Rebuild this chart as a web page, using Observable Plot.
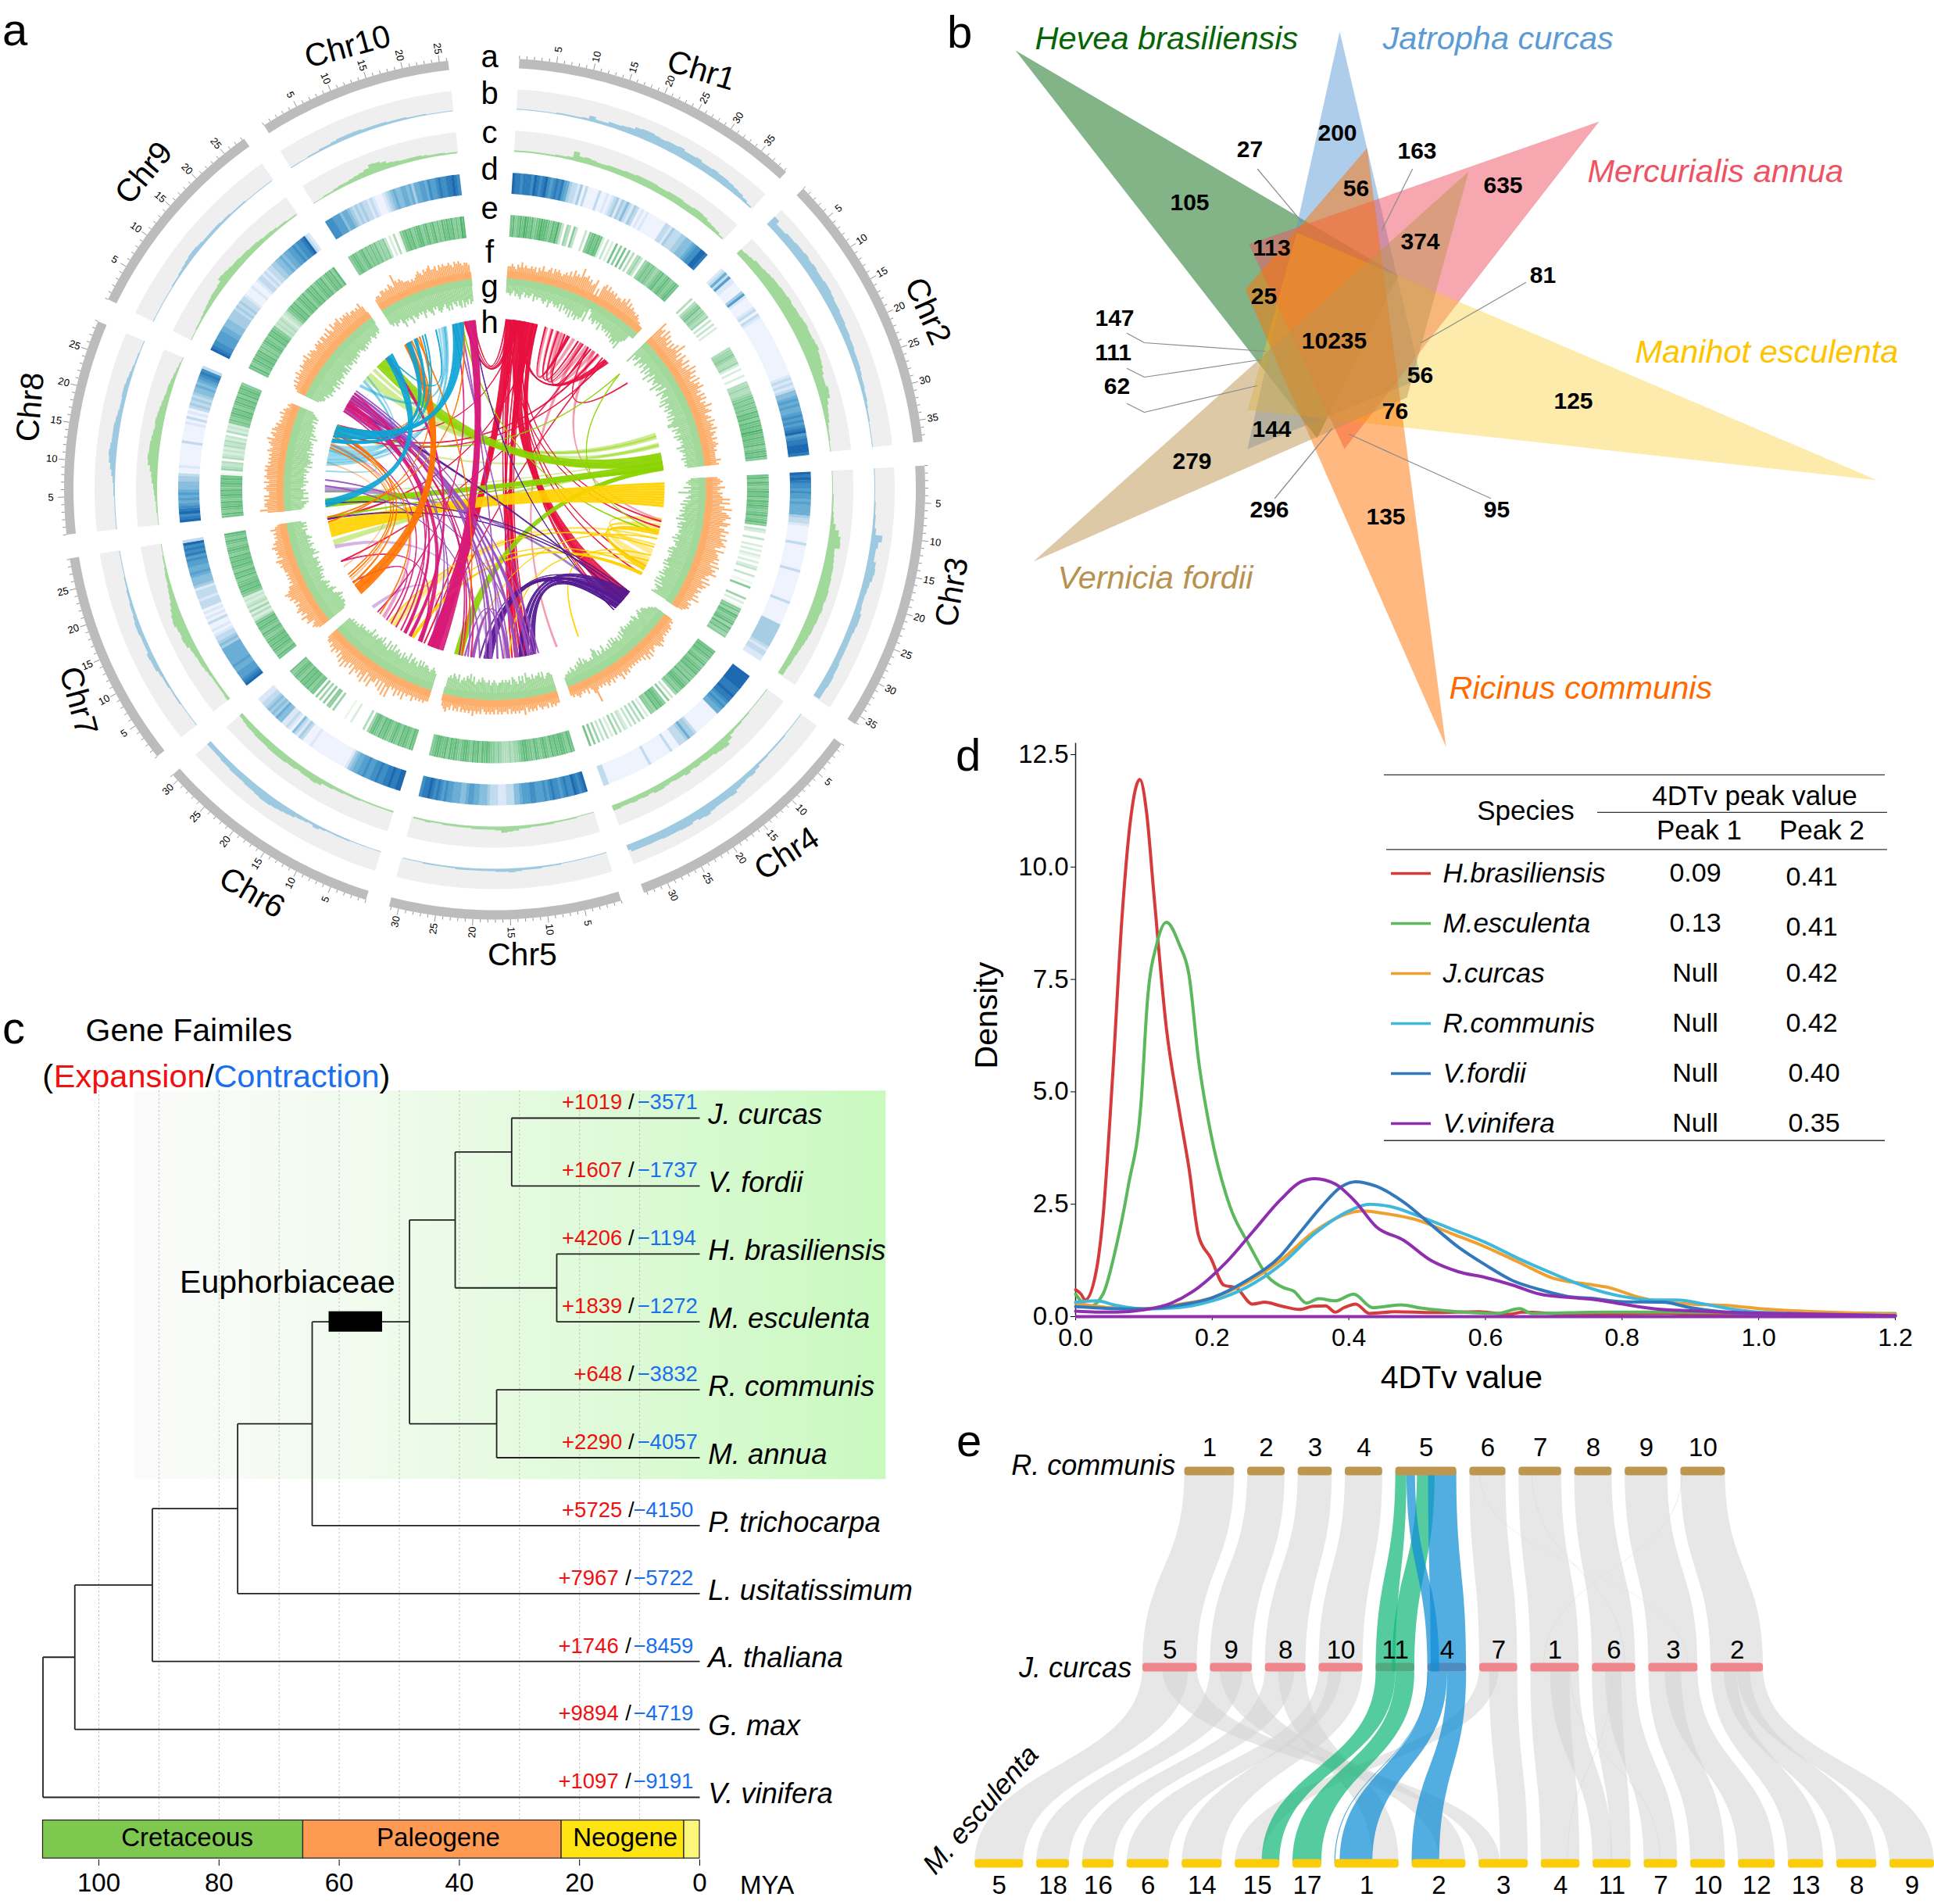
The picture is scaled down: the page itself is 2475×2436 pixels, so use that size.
<!DOCTYPE html>
<html><head><meta charset="utf-8">
<script src="https://cdn.jsdelivr.net/npm/d3@7"></script>
<script src="https://cdn.jsdelivr.net/npm/@observablehq/plot@0.6"></script>
<style>
html,body{margin:0;background:#fff}
#page{position:relative;width:2475px;height:2436px;overflow:hidden;font-family:"Liberation Sans",Arial,sans-serif}
.tag{position:absolute;font-size:58px;line-height:58px}
</style></head><body><div id="page"></div>
<script>
// ---------- Panel a data ----------
const chrNames=["Chr1","Chr2","Chr3","Chr4","Chr5","Chr6","Chr7","Chr8","Chr9","Chr10"];
const chrLen=[39.3,37.9,36.2,33.4,31.3,31,29.1,29,28.3,26.2];
const repeatDensity=[
[1,1,1,1,1,1,2,2,2,2,3,7,4,4,6,6,7,8,11,12,12,11,10,11,11,12,10,10,11,9,9,10,9,9,8,7,6,4,2],
[14,9,9,11,11,12,12,13,12,13,12,12,13,13,12,11,11,10,10,9,9,8,8,7,7,7,6,5,5,4,4,3,2,2,1,1,1,1],
[1,1,1,1,1,2,2,3,3,5,14,10,8,8,11,12,11,9,8,7,7,8,10,10,9,8,8,8,8,8,9,9,10,10,9,9],
[1,1,1,1,2,2,2,2,3,3,5,7,6,7,8,11,10,10,10,11,13,12,10,12,12,11,11,11,10,10,10,10,10,7],
[1,1,1,1,1,1,1,2,2,2,3,3,3,4,5,4,4,3,3,3,3,3,3,2,2,2,2,2,1,1,1],
[1,1,1,1,1,2,2,2,2,3,5,3,4,5,7,8,9,10,11,11,10,9,9,8,8,8,7,7,6,6,6],
[1,1,1,1,2,2,2,3,3,4,6,6,7,5,5,5,6,6,5,4,4,3,3,2,2,1,1,1,1],
[1,1,1,1,1,2,2,3,5,7,9,10,9,8,8,8,7,6,5,5,6,6,5,4,3,2,2,1,1],
[1,1,1,1,1,1,2,2,3,4,5,6,6,5,4,4,4,4,3,3,2,2,2,1,1,1,1,1],
[1,1,1,2,2,3,3,4,5,5,5,5,4,4,4,4,3,3,3,2,2,2,1,1,1,1]];
const gypsyDensity=[
[2,2,2,2,2,2,2,3,3,4,12,7,8,7,6,6,7,7,7,8,8,9,9,9,9,8,8,9,9,9,8,8,9,9,8,6,5,4,2],
[8,9,10,12,12,13,14,15,15,16,16,17,16,17,17,18,19,18,18,19,20,18,17,16,14,12,12,14,13,9,7,6,5,3,2,2,1,1],
[1,1,1,1,2,2,2,3,4,7,12,15,16,10,11,12,13,13,14,14,15,15,14,15,14,14,13,13,12,11,10,9,8,8,7,7],
[1,1,1,1,1,2,2,3,3,4,8,12,11,10,8,8,7,8,7,9,7,7,6,7,8,8,6,7,6,7,6,6,7,7],
[1,1,1,2,2,2,2,3,3,3,3,4,4,6,7,8,5,4,4,4,4,3,3,3,3,3,2,2,3,2,2],
[2,2,2,2,2,2,3,3,3,4,4,5,5,8,9,8,8,7,8,8,9,9,9,9,8,8,8,7,7,6,5],
[4,3,3,3,3,4,5,6,6,7,8,11,12,11,12,14,13,11,9,7,6,5,4,4,3,2,2,1,1],
[1,1,2,2,3,4,5,7,8,10,13,14,13,13,12,11,10,11,10,9,8,7,6,6,5,4,3,2,1],
[1,1,2,2,3,4,5,6,7,7,8,12,11,10,9,9,8,8,7,7,6,5,5,4,3,3,2,2],
[1,1,2,2,3,4,4,5,6,7,9,13,12,10,7,6,5,5,5,5,4,3,3,3,2,2]];
const geneHeat=[
"98878887987897678786"+"53221302"+"000020"+"0101"+"23132421320101"+"000000"+"02213222"+"334445"+"677998",
"12526110"+"00036100"+"00120210"+"0000000000000000000000"+"121212"+"445656556767"+"678967889998",
"98987767665655"+"553221"+"000000"+"20"+"00000000"+"20"+"0000000000"+"20"+"0000000"+"333333333"+"212211",
"9999998889"+"88767655"+"0000000000"+"23353222"+"000"+"20"+"0000000"+"20"+"000000000000000"+"222",
"9878977876"+"7787676667"+"7666544222"+"1112223444"+"5566544555"+"6676787898"+"87",
"9988988778"+"77667665"+"5431"+"000000000000001000"+"2312401211"+"44534343"+"2211",
"987666"+"5565555555"+"343221"+"0100201010"+"22212221"+"34445655"+"667687"+"8792",
"987987"+"656565444332"+"00100000"+"00020000"+"00102010"+"232323"+"445456"+"7872",
"987766"+"6655444333"+"32323221"+"000100"+"12212122"+"33445455"+"667677"+"8921",
"777666"+"455432"+"32322121"+"0001"+"234544554535"+"5665766787"+"788987"];
const geneBars=[
"7867879878678988768796"+"305406"+"300"+"030"+"678787"+"203020"+"70607060"+"404530"+"56767656"+"7867876787",
"404567"+"565450"+"303020"+"00000000"+"45565445"+"2020"+"0200"+"445445"+"6767676878687879878778678786",
"7868767878687876786786"+"03200300"+"2020210202"+"300300"+"106000"+"050201"+"67587678586756",
"787876786787867686788767"+"503060"+"6787856"+"6020504040302"+"304050204030506070",
"7867887878678767867"+"7887655454445656"+"6787868786788767878687"+"78876",
"78678786787678786787"+"5040"+"0000200100"+"000506"+"60605060"+"77687878678767",
"7867878787678678786"+"32425243232"+"6787877687867878786787678678",
"786787867878678787"+"10"+"543404"+"32324342304232"+"676787867878687876",
"786787878676787687876"+"34343234"+"678786787867878678786787868",
"6787678676"+"7675656"+"3020401"+"6787867886786786768787867698"];
const snpOut=[
"3343243534"+"3343424353"+"3453545434"+"5464756596"+"6756457141"+"6757565645"+"5465746454"+"43432211",
"9674857463"+"6475946375"+"4736485746"+"3746574536"+"4635474563"+"4536454635"+"4353454343"+"333534",
"3454364354"+"5858469578"+"9769857968"+"6978975967"+"7868596879"+"6574857646"+"546474354543",
"2323434343"+"4546543453"+"6463534343"+"4343545364"+"3435345343"+"4349532423"+"23432321",
"3343424334"+"3243434253"+"3434342433"+"4342434343"+"2434353434"+"3424342435"+"43",
"3343434353"+"3436353634"+"3848373635"+"5847385746"+"5846475857"+"4635464534"+"43",
"3454365574"+"6576564657"+"6786553434"+"3434445456"+"3545456454"+"34343532",
"5856656464"+"4565464565"+"5656454545"+"4654565745"+"6465453434"+"35343232",
"2343535464"+"5465565746"+"5654565646"+"6464754756"+"6746565645"+"545464",
"3443554546"+"5496565444"+"3434565465"+"6755646565"+"5654656545"+"54"];
const snpIn=[
"4454354564"+"3545436454"+"4565475456"+"5647465758"+"5768676371"+"2545645474"+"5656575768"+"78695411",
"9576486574"+"6847596485"+"6759476385"+"6748695768"+"5768586799"+"7586758675"+"6568576565"+"756565",
"4565474594"+"5647586768"+"6786957868"+"6776879687"+"7689797878"+"8979687879"+"687969587678",
"3455677687"+"6578677676"+"7687574646"+"5757464547"+"5464786454"+"4564756453"+"45343323",
"5665475766"+"5756684757"+"4567465656"+"5545654655"+"6756547586"+"7565475675"+"65",
"5676567768"+"6857687596"+"7685768769"+"6859676978"+"7687697676"+"6767565656"+"55",
"6778878798"+"7668756576"+"5465657675"+"6766755867"+"6567565765"+"55646564",
"5667858668"+"6756768676"+"7687697898"+"7879687878"+"7696876767"+"65757654",
"4566576877"+"8769786977"+"8768785867"+"7686767565"+"6767565654"+"565454",
"5657665796"+"7679678767"+"6976789676"+"8987689796"+"7868969786"+"87"];
const linkFamilyColors=["#e8103f","#8bd400","#ffd200","#531b93","#9b4fc0","#d81b7a","#ff7300","#0ea5d6"];
// chrA, Mb from, Mb to, chrB, Mb from, Mb to, family, strong(1)/faint(0)
const links=[
[1,14,15,1,24,25,0,0],[1,16,17,1,27,28,0,0],[1,18,19,1,29,30,0,0],[1,20,21,1,32,33,0,0],[1,19,20,1,34,35,0,0],[1,27,28,4,32,32.5,0,0],[3,13.5,14,1,32,33,0,0],
[2,25,26.5,9,14,16,1,0],[2,28.5,29.5,8,26,26.5,1,0],[2,29,30,9,18,19,1,0],[2,36,37,7,19,21,1,0],[2,26,27,9,16,17,1,0],[2,33,33.3,8,5,5.3,1,0],
[3,13,14.5,3,24,26,2,0],[3,15,17,3,27,30,2,0],[3,20,20.5,6,19,21,2,0],[3,22,22.5,6,18,19.5,2,0],[3,29,29.5,5,14,14.5,2,0],
[4,6,7,8,5,7,3,0],[7,18,19,5,18,19,4,0],[6,28,29,6,4,5,4,0],[9,7,8.5,5,13,14,4,0],[6,23,24,8,21,21.5,5,0],
[8,21,22,7,6,6.5,6,0],[7,11,11.3,8,15,15.3,6,0],
[8,16,18,10,15,16,7,0],[8,18,20,9,13,14,7,0],[10,14,15.5,9,11,12,7,0],[8,20,21,10,19,19.5,7,0],[8,14,15,10,13,13.5,7,0],[8,15,16,9,15,15.5,7,0],[8,12,12.3,8,19,19.4,7,0],
[1,0.5,4,6,2,6,0,1],[1,4,7,4,1,5,0,1],[1,7,8,5,5,7,0,1],[1,3,3.5,5,8,8.5,0,1],[1,8,9,5,6,7.5,0,1],[1,9,10,5,9,10,0,1],[1,10,11.5,4,5,6,0,1],[1,37,39,1,4,6,0,1],[10,22,23,1,3,5,0,1],
[1,1,1.2,5,9.5,9.7,0,1],[1,2,2.3,5,7,7.3,0,1],[1,4,4.3,5,10,10.3,0,1],[1,6,6.3,5,11,11.3,0,1],[1,9.5,9.8,5,4,4.3,0,1],[1,10,10.3,4,8,8.3,0,1],[1,11,11.2,4,9,9.2,0,1],[1,8,8.3,4,6,6.3,0,1],[1,7,7.3,3,30,30.3,0,1],[1,6.5,6.8,3,33,33.3,0,1],[1,0.5,0.8,10,24,24.3,0,1],[1,1.5,1.8,10,25,25.3,0,1],[1,5,5.3,8,28,28.3,0,1],[1,37.5,37.8,8,25.5,25.8,0,1],[1,36,36.3,6,4,4.3,0,1],[1,3.5,3.8,6,7,7.3,0,1],[1,4.5,4.8,6,9,9.3,0,1],
[1,14,14.3,1,22,23,0,1],[1,16.5,16.8,1,26,26.4,0,1],[1,18.5,18.8,1,28,28.3,0,1],[1,21,21.3,1,31,31.4,0,1],[2,5.5,5.8,1,30,30.3,0,1],[1,34,34.5,8,27,27.5,0,1],[1,30,30.3,7,13,13.3,0,1],[1,11,11.3,7,28,28.5,0,1],[1,2,2.3,3,16,16.3,0,1],[1,5,5.3,3,14,14.3,0,1],
[2,32,36,9,20,25,1,1],[2,35,38,8,0,3,1,1],[2,36.5,38,5,28,31,1,1],[2,37,37.5,7,28.5,29,1,1],[2,1.5,1.7,3,18,18.2,1,1],[2,1.5,1.7,8,28,28.2,1,1],[10,21,21.3,3,18,18.3,1,1],
[3,1,9.5,7,22,27.5,2,1],[3,17,19,3,30,32,2,1],[3,32.5,33.5,6,11,12,2,1],[3,28,28.3,5,12,12.3,2,1],[3,26,26.3,4,24,24.3,2,1],[3,23,23.3,6,21,21.3,2,1],[3,20,20.2,5,25,25.2,2,1],[3,31,31.2,6,15,15.2,2,1],
[4,1,3,5,7.5,9,3,1],[4,3.5,5.5,5,5.5,7,3,1],[4,6,8.5,5,3,5,3,1],[4,5,6,5,18,21,3,1],[4,2,2.3,7,28,28.3,3,1],[4,9,9.2,10,25,25.2,3,1],[4,4,4.4,9,3,4,3,1],[4,3,3.3,5,20,20.3,3,1],[4,7,7.3,5,19,19.3,3,1],[4,8,8.3,5,22,22.3,3,1],[4,1,1.2,8,1,1.2,3,1],
[5,5,6,9,5,6,4,1],[5,9,10,9,6,7,4,1],[5,20,20.3,9,7,7.3,4,1],[5,18,19,9,8,8.5,4,1],[5,24,25,5,12,13,4,1],[10,20.5,20.8,5,16,16.3,4,1],[5,2,2.3,9,9,9.3,4,1],[5,4,4.4,9,2,2.4,4,1],[5,3,3.3,10,19,19.3,4,1],[5,14,14.4,5,27,27.4,4,1],[5,12,12.3,9,4,4.3,4,1],[5,16,16.3,9,3,3.3,4,1],[5,7,7.3,8,9,9.3,4,1],[5,22,22.3,8,7,7.3,4,1],[5,26,26.3,9,1,1.3,4,1],[6,2,2.3,9,1.5,1.8,4,1],[6,5,5.3,9,6,6.3,4,1],
[10,23,26,6,0.3,6,5,1],[9,2,4,6,8,9.5,5,1],[9,24,25,6,12,13,5,1],[9,4,5,6,14,15,5,1],[6,26,26.3,10,18,18.3,5,1],[7,13,13.3,6,8,8.3,5,1],[9,1,1.3,6,16,16.3,5,1],[9,5,5.3,5,25,25.3,5,1],[9,6,6.3,5,28,28.3,5,1],[9,7,7.3,5,29,29.3,5,1],[6,18,18.3,9,8,8.3,5,1],[6,20,20.3,8,25,25.3,5,1],[6,22,22.3,7,5,5.3,5,1],
[7,0.2,4.2,10,0.3,2.5,6,1],[8,25.5,26.5,7,4.5,5,6,1],[7,28.5,28.8,10,21.5,21.8,6,1],[10,6,6.3,7,27,27.3,6,1],[8,24,24.3,7,7,7.3,6,1],[8,20,20.3,7,8,8.3,6,1],[10,3,3.3,7,2,2.3,6,1],[10,1.5,1.8,8,27,27.3,6,1],[6,25,25.3,8,24,24.3,6,1],[5,28,28.2,10,5,5.3,6,1],
[8,26,28,10,18,22,7,1],[9,24,27,8,0,2.5,7,1],[10,1,3,8,24,26,7,1],[10,4,5,8,22,23,7,1],[9,25,25.3,10,12,12.3,7,1],[8,24,24.3,10,7,7.3,7,1],[8,23,23.3,10,8,8.3,7,1]];
const trackLetters=["a","b","c","d","e","f","g","h"];

// ---------- Panel b data ----------
const vennNames=["Hevea brasiliensis","Jatropha curcas","Mercurialis annua","Manihot esculenta","Ricinus communis","Vernicia fordii"];
const vennTriangles=[
[[1299,64],[1789,352],[1685,560]],
[[1714,40],[1596,574],[1818,484]],
[[2046,155],[1598,312],[1720,574]],
[[2402,614],[1659,297],[1596,524]],
[[1850,955],[1749,189],[1593,370]],
[[1322,718],[1879,219],[1800,508]]];
const vennColors=["#056a12","#5b9bd5","#ef5060","#fbcd2e","#ff7200","#bd9350"];
const vennOpacity=[.5,.5,.5,.4,.5,.5];
const vennLabelColors=["#056405","#5b9bd5","#ef5262","#ffc400","#ff6a00","#b8914f"];
const vennLabelAnchors=[[1324,49],[1769,49],[2031,219],[2092,450],[1854,880],[1353,739]];
const vennCounts=[["27",1599,191],["200",1711,170],["163",1813,193],["56",1735,241],["635",1923,237],["105",1522,259],["113",1627,317],["374",1817,309],["25",1617,379],["81",1974,352],["10235",1707,436],["147",1426,407],["111",1424,451],["62",1429,494],["56",1817,480],["76",1785,526],["125",2013,513],["144",1627,549],["279",1525,590],["296",1624,652],["95",1915,652],["135",1773,661]];
const vennLeaders=[
[[1609,216],[1665,283]],[[1807,216],[1768,294]],[[1952,361],[1818,438]],
[[1442,426],[1464,438],[1619,449]],[[1442,471],[1464,482],[1611,460]],[[1442,516],[1464,527],[1608,493]],
[[1631,637],[1704,548]],[[1907,637],[1726,555]]];

// ---------- Panel c data ----------
const taxa=["J. curcas","V. fordii","H. brasiliensis","M. esculenta","R. communis","M. annua","P. trichocarpa","L. usitatissimum","A. thaliana","G. max","V. vinifera"];
const expansions=[1019,1607,4206,1839,648,2290,5725,7967,1746,9894,1097];
const contractions=[3571,1737,1194,1272,3832,4057,4150,5722,8459,4719,9191];
const speciesTree={age:109.3,kids:[{age:104,kids:[{age:91.1,kids:[{age:76.9,kids:[{age:64.5,kids:[{age:48.3,kids:[{age:40.7,kids:[{age:31.3,kids:[0,1]},{age:23.8,kids:[2,3]}]},{age:33.8,kids:[4,5]}]},6]},7]},8]},9]},10]};
const eras=[["Cretaceous",109.3,66,"#7ec850",85.3],["Paleogene",66,23,"#ff9a52",43.5],["Neogene",23,2.6,"#ffe414",12.4],["",2.6,0,"#fbf77a",1.3]];
const timeTicks=[100,80,60,40,20,0];
const gridAges=[100,90,80,70,60,50,40,30,20,10];

// ---------- Panel d data ----------
const dSpecies=["H.brasiliensis","M.esculenta","J.curcas","R.communis","V.fordii","V.vinifera"];
const dColors=["#d63b3b","#5cb85c","#f0a030","#3fb8dc","#3278bd","#8e2fb0"];
const peak1=["0.09","0.13","Null","Null","Null","Null"];
const peak2=["0.41","0.41","0.42","0.42","0.40","0.35"];
const densityCurves=[
[[0,.6],[.008,.5],[.014,.37],[.03,1.0],[.04,2.2],[.054,5.3],[.068,8.9],[.08,11],[.094,11.95],[.104,11.2],[.114,9.5],[.133,6.4],[.152,4.55],[.166,3.3],[.18,1.8],[.198,1.3],[.217,.7],[.235,.64],[.259,.28],[.277,.32],[.3,.24],[.328,.16],[.347,.23],[.366,.24],[.38,.1],[.393,.2],[.41,.28],[.43,.07],[.468,.11],[.524,.09],[.59,.11],[.635,.05],[.654,.1],[.728,.05],[.868,.07],[.914,.04],[1.2,.02]],
[[0,.5],[.02,.22],[.04,.5],[.06,1.6],[.077,2.9],[.096,4.8],[.105,7],[.119,8.3],[.133,8.77],[.152,8.27],[.166,7.6],[.18,5.7],[.198,4.07],[.226,2.45],[.254,1.6],[.282,.88],[.305,.64],[.319,.57],[.338,.3],[.356,.4],[.38,.35],[.407,.5],[.435,.2],[.477,.26],[.505,.19],[.542,.13],[.617,.07],[.65,.18],[.668,.07],[.775,.1],[.868,.1],[1.2,.07]],
[[0,.3],[.05,.2],[.1,.18],[.15,.27],[.2,.42],[.25,.75],[.3,1.25],[.35,1.9],[.4,2.3],[.42,2.35],[.45,2.3],[.5,2.15],[.55,1.85],[.6,1.55],[.65,1.2],[.7,.85],[.75,.72],[.78,.65],[.82,.45],[.85,.35],[.9,.28],[.95,.25],[1,.18],[1.05,.13],[1.1,.1],[1.2,.05]],
[[0,.32],[.03,.35],[.06,.25],[.1,.17],[.15,.2],[.2,.35],[.25,.65],[.3,1.15],[.35,1.85],[.4,2.35],[.43,2.5],[.46,2.45],[.5,2.25],[.55,1.95],[.6,1.65],[.65,1.28],[.7,.95],[.75,.65],[.8,.45],[.85,.37],[.88,.37],[.92,.28],[.96,.17],[1,.1],[1.1,.05],[1.2,.02]],
[[0,.22],[.05,.18],[.1,.17],[.15,.25],[.2,.42],[.25,.8],[.3,1.35],[.33,1.9],[.36,2.45],[.39,2.9],[.41,3],[.44,2.9],[.48,2.55],[.52,2.05],[.56,1.55],[.6,1.15],[.64,.8],[.68,.6],[.72,.45],[.76,.4],[.8,.33],[.86,.32],[.9,.2],[.95,.1],[1,.06],[1.2,.01]],
[[0,.12],[.03,.1],[.06,.1],[.1,.15],[.14,.3],[.18,.65],[.22,1.2],[.26,1.9],[.3,2.6],[.33,3],[.35,3.07],[.38,2.95],[.41,2.55],[.44,2],[.48,1.7],[.52,1.25],[.56,1],[.6,.87],[.64,.7],[.68,.5],[.72,.43],[.76,.38],[.8,.28],[.85,.17],[.9,.13],[1,.08],[1.2,.02]]];

// ---------- Panel e data ----------
const rOrder=["1","2","3","4","5","6","7","8","9","10"];
const rLen=[76,57,52,57,93,55,65,57,65,68];
const jOrder=["5","9","8","10","11","4","7","1","6","3","2"];
const jLen=[83,64,62,67,59,59,58,74,66,75,80];
const mOrder=["5","18","16","6","14","15","17","1","2","3","4","11","7","10","12","13","8","9"];
const mLen=[74,50,48,64,61,68,44,98,82,75,59,58,51,53,56,54,61,68];
const rjGrey=[["1",0,76,"5",0,83],["2",0,57,"9",0,64],["3",0,52,"8",0,62],["4",0,57,"10",0,67],["6",0,55,"7",0,58],["7",0,65,"1",0,74],["8",0,57,"6",0,66],["9",0,65,"3",0,75],["10",0,68,"2",0,80],
["6",15,16,"3",60,61],["7",20,21,"6",50,51],["10",2,3,"1",20,21]];
const jmGrey=[["5",0,70,"5",0,74],["5",30,83,"3",0,33],["9",0,50,"18",0,50],["9",15,64,"2",42,82],["8",0,45,"16",0,48],["8",20,62,"1",58,98],["10",0,35,"6",0,64],["10",15,67,"14",0,61],["7",0,30,"15",0,41],["7",15,58,"3",33,75],["1",0,60,"4",0,59],["1",30,74,"11",0,30],["6",0,45,"11",28,58],["6",20,66,"7",0,51],["3",0,50,"10",0,53],["3",25,75,"12",0,56],["2",0,40,"13",0,54],["2",20,60,"8",0,61],["2",40,80,"9",0,68],
["1",60,61,"7",25,26],["6",30,31,"4",40,41]];
const rjGreen=[["5",0,17,"11",0,30],["5",33,60,"11",25,59]];
const rjBlue=[["5",17,30,"4",0,18],["5",50,93,"4",5,59]];
const jmGreen=[["11",0,30,"15",41,68],["11",30,59,"17",0,44]];
const jmBlue=[["4",0,30,"1",8,58],["4",0,1,"1",0,1.5],["4",30,59,"2",0,42]];

// ---------- Helpers ----------
const page=document.getElementById("page");
const FONT='"Liberation Sans",Arial,sans-serif';
const baseStyle={fontFamily:FONT,background:"transparent",maxWidth:"none",color:"#000"};
function place(p,left,top){p.style.position="absolute";p.style.left=left+"px";p.style.top=top+"px";page.appendChild(p);}
function tag(t,left,top){const d=document.createElement("div");d.className="tag";d.textContent=t;d.style.left=left+"px";d.style.top=top+"px";page.appendChild(d);}
tag("a",3,9);tag("b",1212,12);tag("c",3,1286);tag("d",1223,937);tag("e",1224,1814);

// ---------- Panel a ----------
(function(){
  const GAP=3.2,START=3.3;
  const starts=[];let acc=START;chrLen.forEach(l=>{starts.push(acc);acc+=l+GAP;});
  const pol=(deg,r)=>{const t=deg*Math.PI/180;return [r*Math.sin(t),-r*Math.cos(t)];};
  const ang=(c,mb)=>starts[c]+mb;
  let pid=0;
  const pt=(id,deg,r,extra)=>{const[x,y]=pol(deg,r);return {id,x,y,...extra};};
  function band(c,r0,r1){const id=pid++,a=[],len=chrLen[c],n=Math.ceil(len);
    for(let i=0;i<=n;i++)a.push(pt(id,ang(c,Math.min(i,len)),r1));
    for(let i=n;i>=0;i--)a.push(pt(id,ang(c,Math.min(i,len)),r0));
    return a;}
  function steps(c,vals,r0){const id=pid++,a=[],len=chrLen[c];
    vals.forEach((v,i)=>{a.push(pt(id,ang(c,i),r0+v));a.push(pt(id,ang(c,Math.min(i+1,len)),r0+v));});
    for(let i=vals.length;i>=0;i--)a.push(pt(id,ang(c,Math.min(i,len)),r0));
    return a;}
  const greyA=chrLen.flatMap((_,c)=>band(c,539,551));
  const greyBC=chrLen.flatMap((_,c)=>[...band(c,486,512),...band(c,432,459)]);
  const blueArea=repeatDensity.flatMap((v,c)=>steps(c,v,486));
  const greenArea=gypsyDensity.flatMap((v,c)=>steps(c,v,432));
  const orangeBase=chrLen.flatMap((_,c)=>band(c,270,279));
  const greenBase=chrLen.flatMap((_,c)=>band(c,261,270));
  const ticks=[],tickLabels=[];
  chrLen.forEach((len,c)=>{for(let m=0;m<=Math.floor(len);m++){
    const d=ang(c,m),big=m%5===0&&m>0,[x1,y1]=pol(d,551),[x2,y2]=pol(d,big?559:555);
    ticks.push({x1,y1,x2,y2});
    if(big){const[x,y]=pol(d,568);tickLabels.push({x,y,t:String(m),rot:d<180?d-90:d-270});}
  }});
  function radial(strs,r0,r1Fn){const out=[];strs.forEach((s,c)=>{[...s].forEach((ch,i)=>{const mb=i*0.5+0.25;if(mb>chrLen[c])return;const v=+ch,d=ang(c,mb);const rr=r1Fn(v);const[x1,y1]=pol(d,r0),[x2,y2]=pol(d,rr);out.push({x1,y1,x2,y2,v});});});return out;}
  const heat=radial(geneHeat,378,()=>405);
  const bars=radial(geneBars,323,()=>351).filter(d=>d.v>0);
  const out=radial(snpOut,270,v=>270+6+3.2*v);
  const inn=radial(snpIn,270,v=>270-6-3.2*v);
  // chord ribbons: wide bundles are drawn as fans of separate strands
  const R=217,S=28,ribbons=[];let rid=0;
  links.map(l=>l).sort((p,q)=>p[7]-q[7]).forEach(l=>{
    const[c1,a0,a1,c2,b0,b1,fam,strong]=l;
    const wA=a1-a0,wB=b1-b0,big=Math.max(wA,wB);
    const n=big>=1.4?Math.min(9,Math.round(big/0.6)):1,frac=n>1?0.68:1;
    const color=linkFamilyColors[fam],op=strong?0.97:0.42;
    for(let j=0;j<n;j++){
      const i=rid++;
      const s0=a0+wA*j/n,s1=s0+wA*frac/n;
      const e0=b0+wB*(n-1-j)/n,e1=e0+wB*frac/n;
      const ta0=ang(c1-1,s0),ta1=ang(c1-1,s1),tb0=ang(c2-1,e0),tb1=ang(c2-1,e1);
      const p=d=>pol(d,R);
      let sep=Math.abs((ta0+ta1)/2-(tb0+tb1)/2);if(sep>180)sep=360-sep;
      let mean=Math.atan2(Math.sin(ta0*Math.PI/180)+Math.sin(tb0*Math.PI/180),Math.cos(ta0*Math.PI/180)+Math.cos(tb0*Math.PI/180))*180/Math.PI;
      const k=c1===c2?0.42:Math.max(0,0.5*(1-sep/120));
      const ctrl=pol(mean,R*k);
      const push=(x,y)=>ribbons.push({id:i,x,y,color,op});
      const bez=(P,Q)=>{for(let q=0;q<=S;q++){const t=q/S,u=1-t;push(u*u*P[0]+2*u*t*ctrl[0]+t*t*Q[0],u*u*P[1]+2*u*t*ctrl[1]+t*t*Q[1]);}};
      const arc=(d0,d1)=>{for(let q=0;q<=3;q++){const[x,y]=p(d0+(d1-d0)*q/3);push(x,y);}};
      arc(ta0,ta1);bez(p(ta1),p(tb0));arc(tb0,tb1);bez(p(tb1),p(ta0));
    }
  });
  const nameSpots=[[597,26.3,17],[599,67.7,66],[600,102.7,-80],[598,141.3,-33],[597,176.6,0],[603,211,30],[598,243,75],[603,280,-85],[604,312,-50],[596,341.6,-15]];
  const nameLabels=chrNames.map((t,i)=>{const[r,d,rot]=nameSpots[i];const[x,y]=pol(d,r);return {t,x,y,rot};});
  const letterY=[73,120,170,217,267,323,367,413];
  const letters=trackLetters.map((t,i)=>({t,x:626-632.5,y:letterY[i]-625}));
  const plot=Plot.plot({width:1265,height:1250,margin:0,style:baseStyle,
    x:{domain:[-632.5,632.5],range:[0,1265],axis:null},
    y:{domain:[-625,625],range:[0,1250],axis:null},
    color:{type:"linear",domain:[0,1,3,5,7,9],range:["#eef3fd","#dbe8f7","#a6cde4","#6aaed6","#3f8fc5","#1c69b0"]},
    marks:[
      Plot.line(greyBC,{x:"x",y:"y",z:"id",fill:"#efefef",stroke:"none"}),
      Plot.line(greyA,{x:"x",y:"y",z:"id",fill:"#bdbbbd",stroke:"none"}),
      Plot.link(ticks,{x1:"x1",y1:"y1",x2:"x2",y2:"y2",stroke:"#888",strokeWidth:0.9}),
      Plot.text(tickLabels,{x:"x",y:"y",text:"t",rotate:"rot",fontSize:13}),
      Plot.line(blueArea,{x:"x",y:"y",z:"id",fill:"#9ecae1",stroke:"none"}),
      Plot.line(greenArea,{x:"x",y:"y",z:"id",fill:"#a1d99b",stroke:"none"}),
      Plot.link(heat,{x1:"x1",y1:"y1",x2:"x2",y2:"y2",stroke:"v",strokeWidth:3.9}),
      Plot.link(bars,{x1:"x1",y1:"y1",x2:"x2",y2:"y2",stroke:"#35a855",strokeOpacity:d=>d.v/9*0.88,strokeWidth:2.8}),
      Plot.line(orangeBase,{x:"x",y:"y",z:"id",fill:"#fdae6b",stroke:"none"}),
      Plot.line(greenBase,{x:"x",y:"y",z:"id",fill:"#a1d99b",stroke:"none"}),
      Plot.link(out,{x1:"x1",y1:"y1",x2:"x2",y2:"y2",stroke:"#fdae6b",strokeWidth:2.2}),
      Plot.link(inn,{x1:"x1",y1:"y1",x2:"x2",y2:"y2",stroke:"#a1d99b",strokeWidth:2.2}),
      Plot.line(ribbons,{x:"x",y:"y",z:"id",fill:"color",stroke:"color",strokeWidth:0.9,opacity:"op"}),
      Plot.text(nameLabels,{x:"x",y:"y",text:"t",rotate:"rot",fontSize:41}),
      Plot.text(letters,{x:"x",y:"y",text:"t",fontSize:40})
    ]});
  place(plot,0,0);
})();

// ---------- Panel b ----------
(function(){
  const tri=vennTriangles.flatMap((t,i)=>t.map(([x,y])=>({x,y,i,c:vennColors[i],o:vennOpacity[i]})));
  const lead=vennLeaders.flatMap((l,i)=>l.map(([x,y])=>({x,y,i})));
  const cnt=vennCounts.map(([t,x,y])=>({t,x,y}));
  const names=vennNames.map((t,i)=>({t,x:vennLabelAnchors[i][0],y:vennLabelAnchors[i][1],c:vennLabelColors[i]}));
  const plot=Plot.plot({width:1275,height:960,margin:0,style:baseStyle,
    x:{domain:[1200,2475],range:[0,1275],axis:null},
    y:{domain:[0,960],range:[0,960],axis:null},
    marks:[
      Plot.line(tri,{x:"x",y:"y",z:"i",fill:"c",fillOpacity:"o",stroke:"none"}),
      Plot.line(lead,{x:"x",y:"y",z:"i",stroke:"#8a8a8a",strokeWidth:1.2}),
      Plot.text(cnt,{x:"x",y:"y",text:"t",fontSize:30,fontWeight:"bold"}),
      Plot.text(names,{x:"x",y:"y",text:"t",fill:"c",fontSize:41.5,fontStyle:"italic",textAnchor:"start"})
    ]});
  place(plot,1200,0);
})();

// ---------- Panel c ----------
(function(){
  const segs=[];
  const row=n=>{
    if(typeof n==="number")return {y:n,age:0};
    const cs=n.kids.map(row);
    const y0=cs[0].y,y1=cs[cs.length-1].y,y=(y0+y1)/2;
    segs.push({x1:n.age,x2:n.age,y1:y0,y2:y1});
    cs.forEach(c=>segs.push({x1:n.age,x2:c.age,y1:c.y,y2:c.y}));
    return {y,age:n.age};
  };
  row(speciesTree);
  const idx=taxa.map((t,i)=>i);
  const defs=()=>{
    const ns="http://www.w3.org/2000/svg",d=document.createElementNS(ns,"defs"),g=document.createElementNS(ns,"linearGradient");
    g.setAttribute("id","euphGrad");
    [["0","#fbfbfb"],["0.3","#f1fbee"],["1","#c9f9bf"]].forEach(([o,c])=>{const s=document.createElementNS(ns,"stop");s.setAttribute("offset",o);s.setAttribute("stop-color",c);g.appendChild(s);});
    d.appendChild(g);return d;
  };
  const titlePieces=[["(",109.4,"#000"],["Expansion",107.5,"#f01010"],["/",82.3,"#000"],["Contraction",80.9,"#1a6fef"],[")",53.3,"#000"]].map(([t,x,c])=>({t,x,c}));
  const plot=Plot.plot({width:1200,height:1156,marginTop:0,marginLeft:0,marginRight:0,marginBottom:57,style:baseStyle,
    x:{domain:[100,0],range:[126,895],label:null},
    y:{domain:[0,10],range:[150,1019],axis:null},
    marks:[
      defs,
      Plot.rect([{a:94,b:-31,t:-0.4,u:5.32}],{x1:"a",x2:"b",y1:"t",y2:"u",fill:"url(#euphGrad)"}),
      Plot.ruleX(gridAges,{y1:-0.4,y2:10.34,stroke:"#b5b5b5",strokeWidth:1,strokeDasharray:"2,3"}),
      Plot.link(segs,{x1:"x1",x2:"x2",y1:"y1",y2:"y2",stroke:"#222",strokeWidth:1.8}),
      Plot.rect([{a:61.7,b:52.8,t:2.85,u:3.15}],{x1:"a",x2:"b",y1:"t",y2:"u",fill:"#000"}),
      Plot.text(["Euphorbiaceae"],{x:68.6,y:2.42,text:d=>d,fontSize:41}),
      Plot.text(idx,{x:-1.4,y:i=>i-0.045,text:i=>taxa[i],fontSize:36.5,fontStyle:"italic",textAnchor:"start"}),
      Plot.text(idx,{x:i=>i>=7?13.5:12.9,y:i=>i-0.23,text:i=>"+"+expansions[i],fontSize:27.5,fill:"#f01010",textAnchor:"end"}),
      Plot.text(idx,{x:i=>i>=7?11.9:11.4,y:i=>i-0.23,text:()=>"/",fontSize:27.5}),
      Plot.text(idx,{x:i=>i>=6?11.1:10.4,y:i=>i-0.23,text:i=>"\u2212"+contractions[i],fontSize:27.5,fill:"#1a6fef",textAnchor:"start"}),
      Plot.rect(eras,{x1:d=>d[1],x2:d=>d[2],y1:10.34,y2:10.9,fill:d=>d[3],stroke:"#222",strokeWidth:1.2}),
      Plot.text(eras,{x:d=>d[4],y:10.6,text:d=>d[0],fontSize:33}),
      Plot.axisX({ticks:timeTicks,tickSize:8,tickPadding:9,fontSize:33,anchor:"bottom",label:null,tickFormat:d=>String(d)}),
      Plot.text(["MYA"],{x:-11.2,y:11.3,text:d=>d,fontSize:33}),
      Plot.text(["Gene Faimiles"],{x:102.2,y:-1.28,text:d=>d,fontSize:41,textAnchor:"start"}),
      Plot.text(titlePieces,{x:"x",y:-0.61,text:"t",fill:"c",fontSize:41.5,textAnchor:"start"})
    ]});
  place(plot,0,1280);
})();

// ---------- Panel d ----------
(function(){
  const pts=densityCurves.flatMap((c,i)=>c.map(([x,y])=>({x,y,s:dSpecies[i],c:dColors[i]})));
  const plot=Plot.plot({width:1275,height:860,marginTop:0,marginLeft:176,marginRight:50,marginBottom:116,style:baseStyle,
    x:{domain:[0,1.2],range:[176,1225],label:null},
    y:{domain:[0,12.5],range:[744,25],label:null},
    marks:[
      Plot.axisX({ticks:[0,.2,.4,.6,.8,1,1.2],tickFormat:".1f",tickSize:5,tickPadding:10,fontSize:32,label:null}),
      Plot.axisY({ticks:[0,2.5,5,7.5,10,12.5],tickFormat:".1f",tickSize:6,tickPadding:3,fontSize:33,label:null}),
      Plot.ruleX([0],{y1:0,y2:12.75,stroke:"#222",strokeWidth:1.5}),
      Plot.line(pts,{x:"x",y:"y",z:"s",stroke:"c",strokeWidth:4,curve:"monotone-x"}),
      Plot.ruleY([0],{x1:0,x2:1.2,stroke:"#8e2fb0",strokeWidth:4}),
      Plot.text(["4DTv value"],{x:.565,y:-1.37,text:d=>d,fontSize:41}),
      Plot.text(["Density"],{x:-.13,y:6.7,text:d=>d,fontSize:41,rotate:-90})
    ]});
  place(plot,1200,940);
  const rows=dSpecies.map((s,i)=>({s,c:dColors[i],p1:peak1[i],p2:peak2[i],i}));
  const rules=[{y:-1.97,a:11,b:652},{y:-1.22,a:284,b:655},{y:-0.477,a:14,b:655},{y:5.34,a:11,b:652}];
  const head=[["Species",192,-1.25],["4DTv peak value",485,-1.55],["Peak 1",414,-.86],["Peak 2",571,-.86]].map(([t,x,y])=>({t,x,y}));
  const table=Plot.plot({width:680,height:490,margin:0,style:baseStyle,
    x:{domain:[0,680],range:[0,680],axis:null},
    y:{domain:[0,5],range:[137,457],axis:null},
    marks:[
      Plot.ruleY(rules,{y:"y",x1:"a",x2:"b",stroke:"#333",strokeWidth:1.3}),
      Plot.text(head,{x:"x",y:"y",text:"t",fontSize:35}),
      Plot.ruleY(rows,{y:"i",x1:20,x2:71,stroke:"c",strokeWidth:3.4}),
      Plot.text(rows,{x:86,y:"i",text:"s",fontSize:35,fontStyle:"italic",textAnchor:"start"}),
      Plot.text(rows,{x:409,y:"i",text:"p1",fontSize:34}),
      Plot.text(rows,{x:d=>d.i>=4?561:558,y:d=>d.i<2?d.i+.07:d.i,text:"p2",fontSize:34})
    ]});
  place(table,1760,980);
})();

// ---------- Panel e ----------
(function(){
  const layout=(order,lens,x0)=>{const m=new Map();let x=x0;order.forEach((n,i)=>{m.set(n,{n,a:x,b:x+lens[i]});x+=lens[i]+20;});return m;};
  const R=layout(rOrder,rLen,424),J=layout(jOrder,jLen,360),M=layout(mOrder,mLen,104);
  let id=0;
  const ribbon=(list,top,bot,y0,y1,color)=>list.flatMap(([n1,a,b,n2,c,d])=>{const i=id++;
    return [{i,x1:top.get(n1).a+a,x2:top.get(n1).a+b,y:y0,color},{i,x1:bot.get(n2).a+c,x2:bot.get(n2).a+d,y:y1,color}];});
  const greyRibbons=[...ribbon(rjGrey,R,J,0,1,"#d9d9d9")];
  const greyRibbons2=[...ribbon(jmGrey,J,M,1,2,"#d4d4d4")];
  const colorRibbons=[...ribbon(rjGreen,R,J,0,1.022,"#14b87c"),...ribbon(jmGreen,J,M,1.022,2,"#14b87c"),...ribbon(rjBlue,R,J,0,1.022,"#0f8ed4"),...ribbon(jmBlue,J,M,1.022,2,"#0f8ed4")];
  const area=(d,o)=>Plot.area(d,{x1:"x1",x2:"x2",y1:"y",y2:"y",z:"i",fill:"color",fillOpacity:o,curve:"bump-y"});
  const bar=(m,y,c)=>Plot.rect([...m.values()],{x1:"a",x2:"b",y1:y-.022,y2:y+.022,fill:c,rx:4});
  const lab=(m,y)=>Plot.text([...m.values()],{x:d=>(d.a+d.b)/2,y,text:"n",fontSize:33});
  const plot=Plot.plot({width:1315,height:636,margin:0,style:baseStyle,
    x:{domain:[0,1568],range:[0,1315],axis:null},
    y:{domain:[0,2],range:[82,584],axis:null},
    marks:[
      area(greyRibbons,.62),
      area(greyRibbons2,.55),
      bar(J,1,"#f0868c"),
      area(colorRibbons,.72),
      bar(R,0,"#bd9650"),
      bar(M,2,"#fbcc0a"),
      lab(R,-.12),lab(J,.912),lab(M,2.11),
      Plot.text(["R. communis"],{x:410,y:-.03,text:d=>d,textAnchor:"end",fontStyle:"italic",fontSize:36}),
      Plot.text(["J. curcas"],{x:343,y:1.004,text:d=>d,textAnchor:"end",fontStyle:"italic",fontSize:36}),
      Plot.text(["M. esculenta"],{x:113,y:1.725,text:d=>d,rotate:-49,fontStyle:"italic",fontSize:36})
    ]});
  place(plot,1160,1800);
})();
</script></body></html>
